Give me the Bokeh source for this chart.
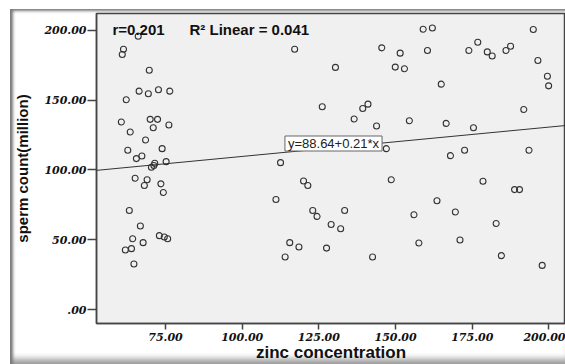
from bokeh.plotting import figure
from bokeh.models import FixedTicker, Label, Slope, Range1d
from bokeh.embed import file_html
from bokeh.resources import INLINE

# ---- data ----
zinc = [66.1, 61.3, 60.9, 69.7, 66.4, 69.4, 72.7, 76.4, 62.2, 60.6,
        70.0, 72.4, 71.0, 76.1, 63.5, 68.5, 62.7, 73.9, 65.5, 67.3,
        71.5, 75.2, 71.2, 70.4, 65.1, 69.0, 68.1, 73.5, 74.3, 63.2,
        66.8, 64.3, 67.7, 73.0, 74.6, 75.7, 61.9, 63.9, 64.7,
        117.1, 130.4, 126.1, 141.0, 139.3, 136.5, 143.8, 145.5, 151.5, 149.9,
        152.9, 154.5, 159.0, 162.0, 160.4, 164.9, 166.5, 175.4, 173.9, 176.8,
        179.9, 181.5, 186.0, 187.5, 194.9, 196.4, 199.5, 199.9, 191.8, 112.5,
        120.0, 121.4, 111.0, 123.0, 124.4, 133.4, 129.0, 132.1, 115.5, 118.5,
        127.5, 114.0, 142.5, 147.0, 167.9, 172.5, 193.5, 148.6, 178.5, 188.8,
        190.4, 163.5, 156.0, 169.5, 182.8, 157.6, 171.0, 184.5, 197.8]
sperm = [195.7, 186.4, 182.6, 171.4, 156.4, 154.5, 157.4, 156.4, 150.2, 134.3,
         136.2, 136.2, 130.2, 132.1, 127.1, 121.4, 114.1, 115.2, 108.1, 110.0,
         104.8, 105.9, 103.2, 101.9, 94.0, 92.9, 88.8, 90.0, 83.8, 70.9,
         59.8, 50.7, 47.9, 52.9, 51.9, 50.7, 42.6, 43.6, 32.6,
         186.4, 173.4, 145.2, 147.1, 144.0, 136.4, 131.4, 187.4, 183.6, 173.6,
         172.4, 135.2, 200.7, 201.6, 185.5, 161.4, 133.3, 130.2, 185.5, 191.4,
         184.5, 181.6, 185.5, 188.6, 200.5, 178.3, 167.1, 160.2, 143.3, 105.2,
         92.1, 88.8, 78.8, 70.9, 66.7, 70.9, 60.9, 57.9, 47.9, 44.8,
         44.0, 37.6, 37.6, 115.2, 110.2, 114.1, 114.1, 92.9, 91.9, 85.9,
         85.9, 77.9, 67.9, 69.8, 61.6, 47.6, 49.8, 38.6, 31.6]

x_ticks = [75, 100, 125, 150, 175, 200]
x_tick_labels = ["75.00", "100.00", "125.00", "150.00", "175.00", "200.00"]
y_ticks = [0, 50, 100, 150, 200]
y_tick_labels = [".00", "50.00", "100.00", "150.00", "200.00"]

intercept = 88.64
slope = 0.21
r_value = 0.201
r_squared = 0.041

x_title = "zinc concentration"
y_title = "sperm count(million)"

# ---- figure ----
p = figure(width=565, height=364, output_backend="svg", toolbar_location=None,
           x_range=Range1d(52.5, 205.4), y_range=Range1d(-10, 212),
           min_border_left=96, min_border_right=0, min_border_top=13,
           min_border_bottom=40)

p.background_fill_color = "#f0f0f0"
p.border_fill_color = "white"
p.border_fill_alpha = 0
p.outline_line_color = "#444444"
p.outline_line_width = 1.5
p.xgrid.visible = False
p.ygrid.visible = False
p.styles = {"box-shadow": "inset 10px 9px 0px 0px #ffffff, "
                          "inset 13px 11px 3px 0px #7a7a7a, "
                          "inset 0px -9px 6px -4px #9a9a9a"}

for ax in (p.xaxis[0], p.yaxis[0]):
    ax.axis_line_color = "#444444"
    ax.axis_line_width = 1.5
    ax.major_tick_line_color = "#444444"
    ax.major_tick_line_width = 1.5
    ax.minor_tick_line_color = None
    ax.major_tick_in = 0
    ax.major_label_text_font = "DejaVu Serif"
    ax.major_label_text_font_style = "bold italic"
    ax.major_label_text_font_size = "11px"
    ax.major_label_text_color = "#111111"

p.xaxis[0].ticker = FixedTicker(ticks=x_ticks)
p.xaxis[0].major_label_overrides = dict(zip(x_ticks, x_tick_labels))
p.xaxis[0].major_tick_out = 6
p.xaxis[0].major_label_standoff = 3
p.xaxis[0].axis_label = x_title
p.xaxis[0].axis_label_text_font = "Liberation Sans"
p.xaxis[0].axis_label_text_font_style = "bold"
p.xaxis[0].axis_label_text_font_size = "17px"
p.xaxis[0].axis_label_text_color = "#111111"
p.xaxis[0].axis_label_standoff = -1

p.yaxis[0].ticker = FixedTicker(ticks=y_ticks)
p.yaxis[0].major_label_overrides = dict(zip(y_ticks, y_tick_labels))
p.yaxis[0].major_tick_out = 9
p.yaxis[0].major_label_standoff = 1
p.yaxis[0].axis_label = y_title
p.yaxis[0].axis_label_text_font = "Liberation Sans"
p.yaxis[0].axis_label_text_font_style = "bold"
p.yaxis[0].axis_label_text_font_size = "15px"
p.yaxis[0].axis_label_text_color = "#111111"
p.yaxis[0].axis_label_standoff = 10

# regression line
p.add_layout(Slope(gradient=slope, y_intercept=intercept,
                   line_color="#333333", line_width=1))

# points
p.scatter(zinc, sperm, marker="circle", size=6, fill_color=None,
          line_color="#333333", line_width=1.1)

# annotations (screen units, measured from the plot frame's lower-left corner)
p.add_layout(Label(x=16, y=294, x_units="screen", y_units="screen",
                   text=f"r={r_value:.3f}", text_font="Liberation Sans",
                   text_font_style="bold", text_font_size="15px",
                   text_color="#111111",
                   text_baseline="alphabetic", text_align="left"))
p.add_layout(Label(x=93, y=294, x_units="screen", y_units="screen",
                   text=f"R\u00b2 Linear = {r_squared:.3f}", text_font="Liberation Sans",
                   text_font_style="bold", text_font_size="15px",
                   text_color="#111111",
                   text_baseline="alphabetic", text_align="left"))
p.add_layout(Label(x=237, y=180, x_units="screen", y_units="screen",
                   text=f"y={intercept:.2f}+{slope:.2f}*x", text_font="Liberation Sans",
                   text_font_size="13px", text_color="#222222",
                   text_baseline="middle", text_align="center",
                   background_fill_color="white", border_line_color="#666666",
                   border_line_width=1, padding=dict(x=3, y=0)))

open("out.html", "w").write(file_html(p, INLINE))
